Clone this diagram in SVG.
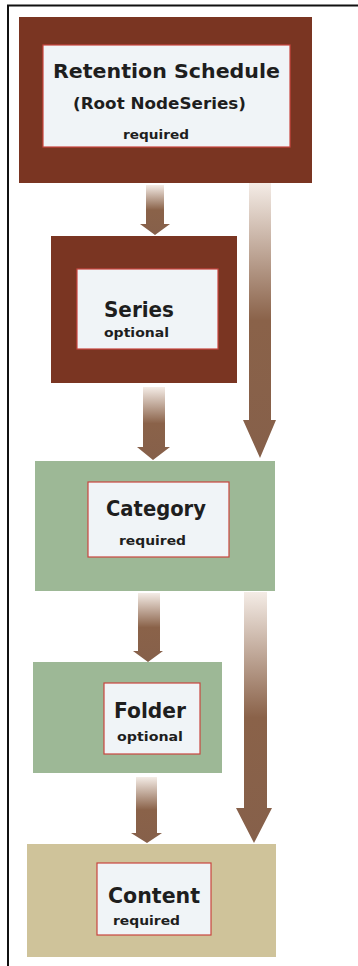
<svg xmlns="http://www.w3.org/2000/svg" width="358" height="966" viewBox="0 0 358 966">
<defs>
<linearGradient id="ag" x1="0" y1="0" x2="0" y2="1">
<stop offset="0" stop-color="#f4ece6"/>
<stop offset="0.5" stop-color="#8a6249"/>
<stop offset="1" stop-color="#86604a"/>
</linearGradient>
</defs>
<style>
.brown{fill:#7a3522}
.green{fill:#9db896}
.tan{fill:#cfc39a}
.inner{fill:#f0f4f7;stroke:#c8453f;stroke-width:1.2}
text{font-family:"DejaVu Sans","Liberation Sans",Arial,sans-serif;font-weight:bold;fill:#1e1e1e}
.t1{font-size:20px}
.t2{font-size:15px}
.t3{font-size:12px}
.big{font-size:21px}
.sm{font-size:13px}
.conn{fill:url(#ag)}
</style>
<rect x="0" y="0" width="358" height="966" fill="#ffffff"/>
<path d="M8,966 V5.5 H358" fill="none" stroke="#111" stroke-width="2"/>
<g id="connectors">
<path class="conn" d="M146,185 H164 V224 H170 L155,235 L140,224 H146 Z"/>
<path class="conn" d="M249,183 H271 V420 H276 L260,458 L243,420 H249 Z"/>
<path class="conn" d="M143,387 H165 V447 H170 L153,460 L137,447 H143 Z"/>
<path class="conn" d="M138,593 H160 V651 H163 L148,662 L133,651 H138 Z"/>
<path class="conn" d="M244,592 H267 V808 H272 L254,843 L236,808 H244 Z"/>
<path class="conn" d="M136,777 H157 V833 H162 L147,843 L131,833 H136 Z"/>
</g>
<g id="retention">
<rect class="brown" x="19" y="17" width="293" height="166"/>
<rect class="inner" x="43" y="45" width="247" height="102"/>
<text class="t1" x="53" y="78" textLength="227" lengthAdjust="spacingAndGlyphs">Retention Schedule</text>
<text class="t2" x="73" y="109" textLength="173" lengthAdjust="spacingAndGlyphs">(Root NodeSeries)</text>
<text class="t3" x="123" y="139" textLength="66" lengthAdjust="spacingAndGlyphs">required</text>
</g>
<g id="series">
<rect class="brown" x="51" y="236" width="186" height="147"/>
<rect class="inner" x="77" y="269" width="141" height="80"/>
<text class="big" x="104" y="317" textLength="70" lengthAdjust="spacingAndGlyphs">Series</text>
<text class="sm" x="104" y="337" textLength="65" lengthAdjust="spacingAndGlyphs">optional</text>
</g>
<g id="category">
<rect class="green" x="35" y="461" width="240" height="130"/>
<rect class="inner" x="88" y="482" width="141" height="75"/>
<text class="big" x="106" y="516" textLength="100" lengthAdjust="spacingAndGlyphs">Category</text>
<text class="sm" x="119" y="545" textLength="67" lengthAdjust="spacingAndGlyphs">required</text>
</g>
<g id="folder">
<rect class="green" x="33" y="662" width="189" height="111"/>
<rect class="inner" x="104" y="683" width="96" height="71"/>
<text class="big" x="114" y="718" textLength="72" lengthAdjust="spacingAndGlyphs">Folder</text>
<text class="sm" x="117" y="741" textLength="66" lengthAdjust="spacingAndGlyphs">optional</text>
</g>
<g id="content">
<rect class="tan" x="27" y="844" width="249" height="113"/>
<rect class="inner" x="97" y="863" width="114" height="72"/>
<text class="big" x="108" y="903" textLength="92" lengthAdjust="spacingAndGlyphs">Content</text>
<text class="sm" x="113" y="925" textLength="67" lengthAdjust="spacingAndGlyphs">required</text>
</g>
</svg>
